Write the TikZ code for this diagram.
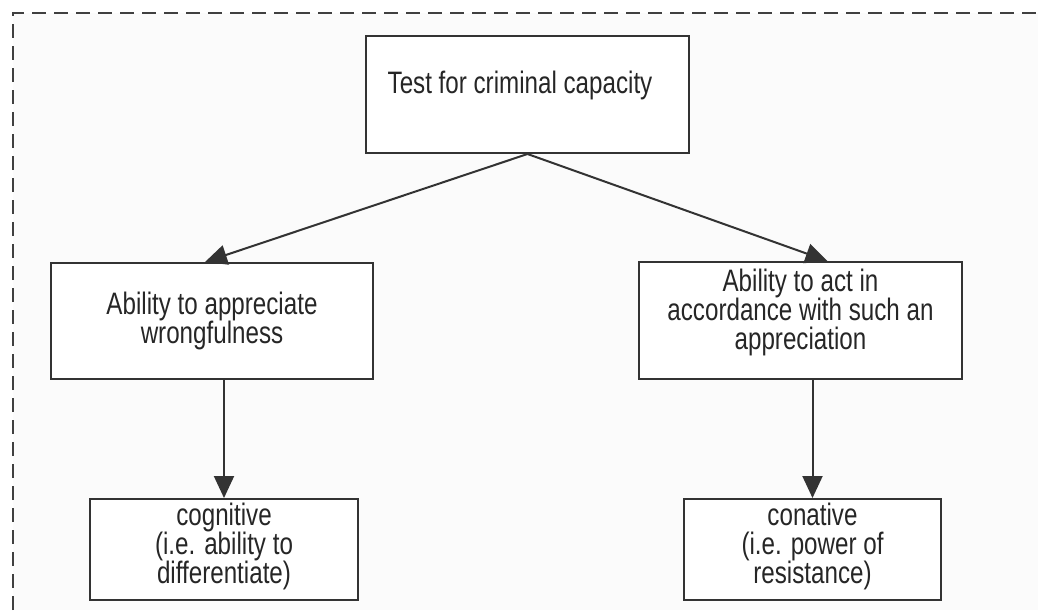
\documentclass[tikz,border=0pt]{standalone}
\usepackage{fontspec}
\setmainfont{Liberation Sans}[FakeStretch=0.78]
\usetikzlibrary{arrows.meta}

\begin{document}
\begin{tikzpicture}[x=1pt,y=-1pt]
\tikzstyle{box}=[draw=black!80,line width=2pt,fill=white,text=black!85,align=center,font=\fontsize{31}{29}\selectfont,inner sep=0pt]
\tikzstyle{link}=[draw=black!80,line width=2pt,-{Triangle[length=22pt,width=20pt]}]

\useasboundingbox (0,0) rectangle (1038,610);
\fill[black!1.5] (13,13) rectangle (1038,610);
\draw[black!75,line width=2.4pt,dash pattern=on 14pt off 8pt] (13,610) -- (13,13) -- (1038,13);

\node[box,minimum width=323,minimum height=117,text height=20pt,text depth=23pt] (test) at (527.5,94.5) {Test for criminal capacity\kern15pt};
\node[box,minimum width=322,minimum height=116] (appr) at (212,321) {Ability to appreciate\\wrongfulness};
\node[box,minimum width=323,minimum height=117,text depth=22pt] (actn) at (800.5,320.5) {Ability to act in\\accordance with such an\\appreciation};
\node[box,minimum width=268,minimum height=101,text depth=12pt] (cogn) at (224,549.5) {cognitive\\(i.e. ability to\\differentiate)};
\node[box,minimum width=257,minimum height=101,text depth=12pt] (conat) at (812.5,549.5) {conative\\(i.e. power of\\resistance)};

\draw[link] (test.south) -- ([xshift=-7]appr.north);
\draw[link] (test.south) -- ([xshift=27]actn.north);
\draw[link] (cogn.north |- appr.south) -- (cogn.north);
\draw[link] (conat.north |- actn.south) -- (conat.north);
\end{tikzpicture}
\end{document}
